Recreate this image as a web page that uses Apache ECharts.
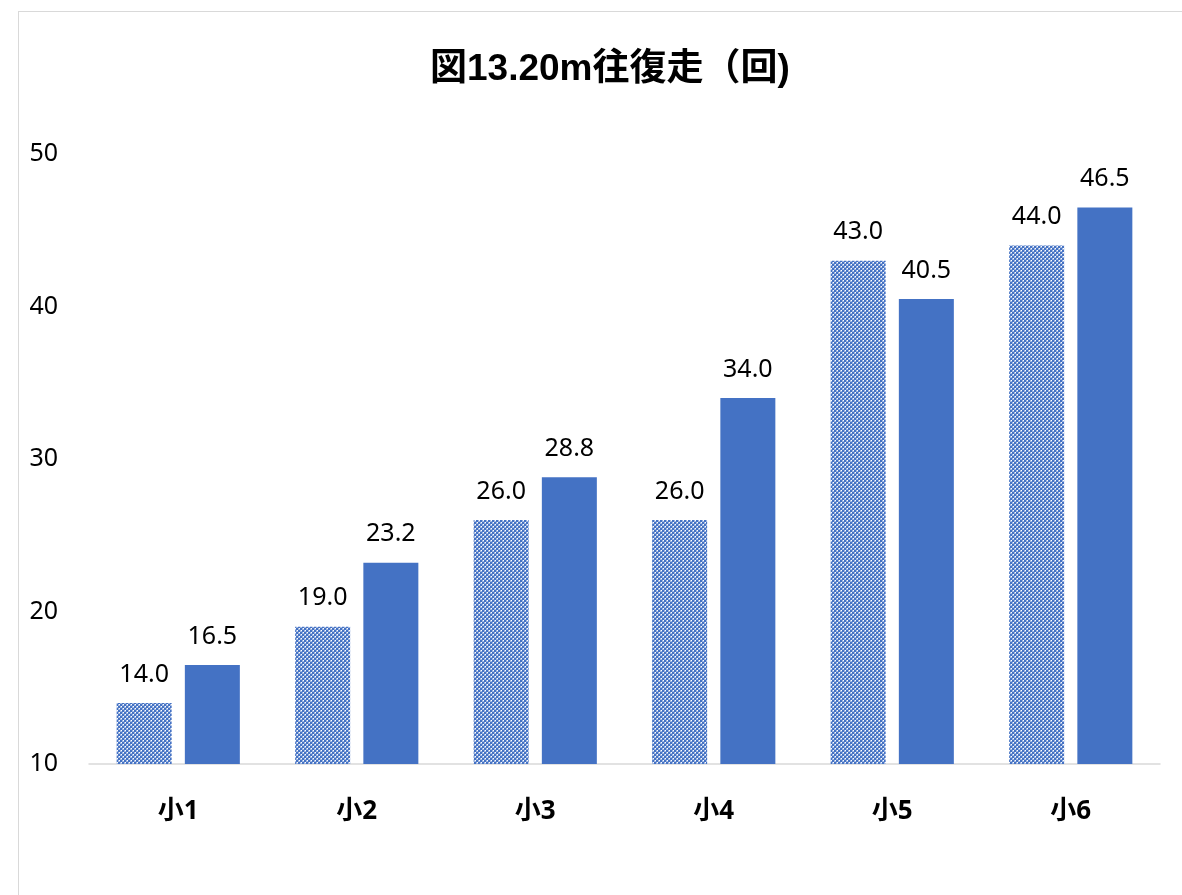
<!DOCTYPE html>
<html><head><meta charset="utf-8">
<script src="https://cdn.jsdelivr.net/npm/echarts@6/dist/echarts.min.js"></script>
<style>html,body{margin:0;padding:0;background:#fff}#c{width:1182px;height:895px}
#frame{position:absolute;left:18px;top:11px;width:1200px;height:900px;border:1px solid #d9d9d9;box-sizing:border-box;pointer-events:none}</style>
</head><body><div id="c"></div><div id="frame"></div>
<script>
const categories = ['小1','小2','小3','小4','小5','小6'];
const series1 = [14.0, 19.0, 26.0, 26.0, 43.0, 44.0];
const series2 = [16.5, 23.2, 28.8, 34.0, 40.5, 46.5];
const yTicks = [10, 20, 30, 40, 50];

const pc = document.createElement('canvas');
pc.width = 4; pc.height = 4;
const ctx = pc.getContext('2d');
ctx.fillStyle = '#ffffff'; ctx.fillRect(0,0,4,4);
ctx.fillStyle = '#4472C4';
ctx.fillRect(0,0,2,2); ctx.fillRect(2,2,2,2);
ctx.fillStyle = '#9fb6e0';
ctx.fillRect(2,0,2,2); ctx.fillRect(0,2,2,2);
ctx.fillStyle = '#ffffff';
ctx.fillRect(3,0,1,1); ctx.fillRect(1,2,1,1);

const chart = echarts.init(document.getElementById('c'));
const labelFont = {show:true, position:'top', distance:16, fontSize:25, color:'#000', fontFamily:'Noto Sans, sans-serif', formatter: p => p.value.toFixed(1)};
chart.setOption({
  animation:false,
  title:{text:'図13.20m往復走（回)', left:425, top:46, textStyle:{fontSize:37, fontWeight:'bold', color:'#000', fontFamily:'Liberation Sans, Noto Sans CJK JP, sans-serif'}},
  grid:{left:89, right:22, top:154, bottom:131},
  xAxis:{type:'category', data:categories, axisTick:{show:false},
    axisLine:{lineStyle:{color:'#d9d9d9', width:1.5}},
    axisLabel:{fontSize:26, fontWeight:'bold', color:'#000', margin:35, fontFamily:'Noto Sans, Noto Sans CJK JP, sans-serif'}},
  yAxis:{type:'value', min:yTicks[0], max:yTicks[yTicks.length-1], interval:10,
    splitLine:{show:false}, axisLine:{show:false}, axisTick:{show:false},
    axisLabel:{fontSize:25, color:'#000', margin:31, fontFamily:'Noto Sans, sans-serif'}},
  series:[
    {type:'bar', data:series1, barWidth:55, barGap:'24%', barCategoryGap:'31%',
      itemStyle:{color:{image:pc, repeat:'repeat'}}, label:labelFont},
    {type:'bar', data:series2, barWidth:55, itemStyle:{color:'#4472C4'}, label:labelFont}
  ]
});
</script></body></html>
